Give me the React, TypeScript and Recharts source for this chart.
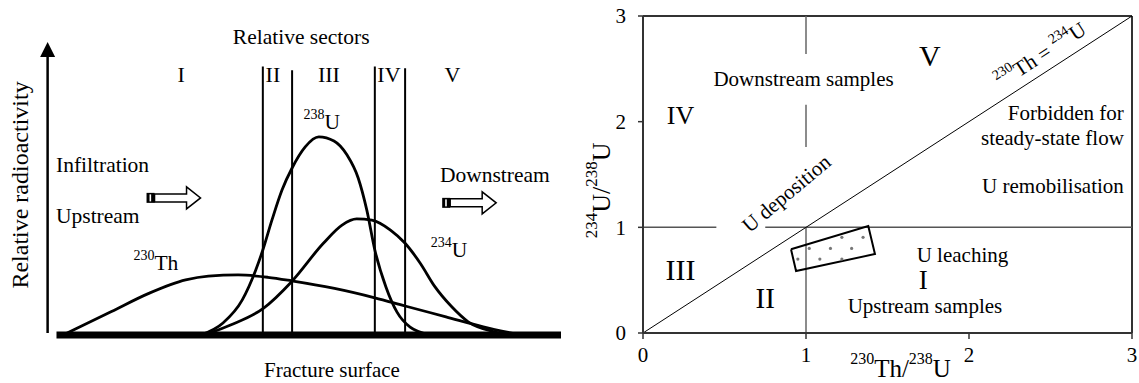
import React from 'react';
import {
  ComposedChart,
  Line,
  Scatter,
  XAxis,
  YAxis,
  ReferenceLine,
  ReferenceDot
} from 'recharts';

const FONT = '"Liberation Serif", "Times New Roman", serif';

// Left panel: activity profiles along the fracture (x = position, y = relative activity)
const u238Profile = [
  { x: 28.6, y: 0 }, { x: 33.0, y: 4.1 }, { x: 36.8, y: 11.9 }, { x: 39.5, y: 22.2 },
  { x: 40.9, y: 29.0 }, { x: 42.7, y: 39.2 }, { x: 44.7, y: 49.5 }, { x: 46.7, y: 57.0 },
  { x: 49.3, y: 64.2 }, { x: 52.0, y: 67.6 }, { x: 55.0, y: 66.2 }, { x: 57.6, y: 61.4 },
  { x: 59.8, y: 53.6 }, { x: 61.5, y: 42.7 }, { x: 63.1, y: 29.0 }, { x: 65.3, y: 16.4 },
  { x: 67.5, y: 7.8 }, { x: 70.1, y: 2.7 }, { x: 74.2, y: 0 }
];
const u234Profile = [
  { x: 29.3, y: 0 }, { x: 34.5, y: 3.4 }, { x: 41.0, y: 9.1 }, { x: 46.6, y: 18.2 },
  { x: 52.9, y: 31.3 }, { x: 56.6, y: 37.5 }, { x: 59.5, y: 39.6 }, { x: 62.5, y: 39.2 },
  { x: 66.2, y: 35.8 }, { x: 69.1, y: 31.3 }, { x: 72.1, y: 24.5 }, { x: 75.0, y: 16.5 },
  { x: 78.3, y: 9.7 }, { x: 81.6, y: 4.5 }, { x: 86.8, y: 1.1 }, { x: 92.0, y: 0 }
];
const th230Profile = [
  { x: 1.3, y: 0 }, { x: 10.9, y: 8.0 }, { x: 18.3, y: 14.2 }, { x: 25.6, y: 18.8 },
  { x: 30.1, y: 20.1 }, { x: 36.0, y: 20.5 }, { x: 41.9, y: 19.7 }, { x: 46.6, y: 18.5 },
  { x: 55.1, y: 15.9 }, { x: 63.1, y: 12.7 }, { x: 69.1, y: 9.9 }, { x: 77.2, y: 6.2 },
  { x: 84.6, y: 2.8 }, { x: 92.0, y: 0 }
];
const sectorBounds = [40.9, 46.7, 63.1, 69.1];
const sectorTops = [91.6, 90.4, 91.6, 91.0];
const sectorNames = ['I', 'II', 'III', 'IV', 'V'];
const sectorLabelX = [24.7, 42.9, 54.0, 65.9, 78.5];

// Right panel: activity-ratio diagram
const ratioTicks = [0, 1, 2, 3];
const sampleBox = [
  { x: 0.908, y: 0.792 }, { x: 1.382, y: 1.012 }, { x: 1.423, y: 0.747 },
  { x: 0.939, y: 0.587 }, { x: 0.908, y: 0.792 }
];
const sampleDots = [
  { x: 1.02, y: 0.8 }, { x: 1.15, y: 0.8 }, { x: 1.28, y: 0.8 },
  { x: 1.22, y: 0.905 }, { x: 1.35, y: 0.905 },
  { x: 0.95, y: 0.7 }, { x: 1.085, y: 0.7 }, { x: 1.22, y: 0.7 }
];
const regionNames = ['V', 'IV', 'III', 'II', 'I'];
const regionX = [1.76, 0.23, 0.23, 0.75, 1.72];
const regionY = [2.63, 2.06, 0.61, 0.33, 0.5];
const regionSize = [30, 26, 30, 29, 27];

type Part = [string, boolean];

const renderParts = (parts: Part[], size: number) => {
  const sup = Math.round(size * 0.65);
  const shift = size * 0.38;
  let wasSup = false;
  return parts.map(([t, isSup], i) => {
    let dy = 0;
    if (isSup && !wasSup) dy = -shift;
    if (!isSup && wasSup) dy = shift;
    wasSup = isSup;
    return (
      <tspan key={i} dy={dy} fontSize={isSup ? sup : size}>{t}</tspan>
    );
  });
};

const note = (parts: Part[], size = 22, anchor = 'middle', rot = 0) => (p: any) => (
  <text
    x={p.cx}
    y={p.cy}
    textAnchor={anchor as any}
    dominantBaseline="central"
    fontFamily={FONT}
    fontSize={size}
    fill="#000"
    transform={rot ? `rotate(${rot} ${p.cx} ${p.cy})` : undefined}
  >
    {renderParts(parts, size)}
  </text>
);

const FlowArrow = (p: any) => {
  const { cx, cy } = p;
  const x0 = cx - 27;
  const x1 = cx + 27;
  const hs = x1 - 14;
  const tail = x0 + 8;
  return (
    <g>
      <polygon
        points={`${tail},${cy - 4} ${hs},${cy - 4} ${hs},${cy - 11} ${x1},${cy} ${hs},${cy + 11} ${hs},${cy + 4} ${tail},${cy + 4}`}
        fill="#fff"
        stroke="#000"
        strokeWidth={1.5}
      />
      <rect x={x0} y={cy - 5} width={8} height={10} fill="#000" />
      <rect x={x0 + 3} y={cy - 3.5} width={1.6} height={7} fill="#fff" />
    </g>
  );
};

const AxisArrow = (p: any) => {
  const { x1, y1, x2, y2 } = p;
  const top = Math.min(y1, y2);
  const bottom = Math.max(y1, y2);
  return (
    <g>
      <line x1={x1} y1={bottom} x2={x1} y2={top + 12} stroke="#000" strokeWidth={2.5} />
      <polygon points={`${x1},${top} ${x1 - 7.5},${top + 15} ${x1 + 7.5},${top + 15}`} fill="#000" />
    </g>
  );
};

const FractureProfile = () => (
  <ComposedChart width={580} height={383} margin={{ top: 12.7, right: 19, bottom: 48, left: 46.4 }}>
    <XAxis type="number" dataKey="x" domain={[-2, 100]} hide allowDataOverflow />
    <YAxis type="number" domain={[0, 110]} hide allowDataOverflow />
    <ReferenceLine segment={[{ x: -1.76, y: 0.7 }, { x: -1.76, y: 100 }]} shape={AxisArrow} ifOverflow="visible" />
    {sectorBounds.map((b, i) => (
      <ReferenceLine key={b} segment={[{ x: b, y: 0 }, { x: b, y: sectorTops[i] }]} stroke="#000" strokeWidth={2} />
    ))}
    <Line data={th230Profile} dataKey="y" type="monotone" stroke="#000" strokeWidth={2.8} dot={false} isAnimationActive={false} />
    <Line data={u238Profile} dataKey="y" type="monotone" stroke="#000" strokeWidth={2.8} dot={false} isAnimationActive={false} />
    <Line data={u234Profile} dataKey="y" type="monotone" stroke="#000" strokeWidth={2.8} dot={false} isAnimationActive={false} />
    <ReferenceLine segment={[{ x: 0, y: 0 }, { x: 100, y: 0 }]} stroke="#000" strokeWidth={7} />
    {sectorNames.map((s, i) => (
      <ReferenceDot key={s} x={sectorLabelX[i]} y={89.1} r={0} shape={note([[s, false]], 22)} ifOverflow="visible" />
    ))}
    <ReferenceDot x={48.5} y={101.7} r={0} shape={note([['Relative sectors', false]], 21.5)} ifOverflow="visible" />
    <ReferenceDot x={-0.1} y={58} r={0} shape={note([['Infiltration', false]], 21.5, 'start')} ifOverflow="visible" />
    <ReferenceDot x={-0.1} y={40.6} r={0} shape={note([['Upstream', false]], 21.5, 'start')} ifOverflow="visible" />
    <ReferenceDot x={76.0} y={54.6} r={0} shape={note([['Downstream', false]], 21.5, 'start')} ifOverflow="visible" />
    <ReferenceDot x={23.2} y={46.8} r={0} shape={FlowArrow} ifOverflow="visible" />
    <ReferenceDot x={81.8} y={45.1} r={0} shape={FlowArrow} ifOverflow="visible" />
    <ReferenceDot x={52.6} y={72.7} r={0} shape={note([['238', true], ['U', false]], 21.5)} ifOverflow="visible" />
    <ReferenceDot x={77.8} y={29.0} r={0} shape={note([['234', true], ['U', false]], 21.5)} ifOverflow="visible" />
    <ReferenceDot x={19.7} y={24.6} r={0} shape={note([['230', true], ['Th', false]], 21.5)} ifOverflow="visible" />
    <ReferenceDot x={-7.2} y={51.2} r={0} shape={note([['Relative radioactivity', false]], 24, 'middle', -90)} ifOverflow="visible" />
    <ReferenceDot x={54.6} y={-11.8} r={0} shape={note([['Fracture surface', false]], 21)} ifOverflow="visible" />
  </ComposedChart>
);

const RatioDiagram = () => (
  <ComposedChart width={559} height={383} margin={{ top: 16, right: 7, bottom: 0, left: 23 }}>
    <XAxis
      type="number"
      dataKey="x"
      domain={[0, 3]}
      ticks={ratioTicks}
      height={50}
      tick={{ fontSize: 21, fill: '#000', fontFamily: FONT }}
      axisLine={{ stroke: '#333', strokeWidth: 2 }}
      tickLine={{ stroke: '#333', strokeWidth: 1.5 }}
      tickSize={6}
      tickMargin={8}
      allowDataOverflow
    />
    <YAxis
      type="number"
      dataKey="y"
      domain={[0, 3]}
      ticks={ratioTicks}
      width={40}
      tick={{ fontSize: 21, fill: '#000', fontFamily: FONT }}
      axisLine={{ stroke: '#333', strokeWidth: 2 }}
      tickLine={{ stroke: '#333', strokeWidth: 1.5 }}
      tickSize={5}
      tickMargin={12}
      allowDataOverflow
    />
    <ReferenceLine y={3} stroke="#333" strokeWidth={2} />
    <ReferenceLine x={3} stroke="#333" strokeWidth={2} />
    <ReferenceLine segment={[{ x: 0, y: 1 }, { x: 0.45, y: 1 }]} stroke="#555" strokeWidth={1.5} />
    <ReferenceLine segment={[{ x: 0.75, y: 1 }, { x: 3, y: 1 }]} stroke="#555" strokeWidth={1.5} />
    <ReferenceLine segment={[{ x: 1, y: 0 }, { x: 1, y: 1 }]} stroke="#666" strokeWidth={1.5} />
    <ReferenceLine segment={[{ x: 1, y: 1.76 }, { x: 1, y: 2.16 }]} stroke="#666" strokeWidth={1.5} />
    <ReferenceLine segment={[{ x: 1, y: 2.64 }, { x: 1, y: 3 }]} stroke="#666" strokeWidth={1.5} />
    <ReferenceLine segment={[{ x: 0, y: 0 }, { x: 3, y: 3 }]} stroke="#000" strokeWidth={1} />
    <Line data={sampleBox} dataKey="y" type="linear" stroke="#000" strokeWidth={2} dot={false} isAnimationActive={false} />
    <Scatter
      data={sampleDots}
      dataKey="y"
      isAnimationActive={false}
      shape={(p: any) => <circle cx={p.cx} cy={p.cy} r={1.6} fill="#777" />}
    />
    {regionNames.map((s, i) => (
      <ReferenceDot key={s} x={regionX[i]} y={regionY[i]} r={0} shape={note([[s, false]], regionSize[i])} ifOverflow="visible" />
    ))}
    <ReferenceDot x={0.985} y={2.4} r={0} shape={note([['Downstream samples', false]], 21)} />
    <ReferenceDot x={2.95} y={2.08} r={0} shape={note([['Forbidden for', false]], 21, 'end')} />
    <ReferenceDot x={2.95} y={1.85} r={0} shape={note([['steady-state flow', false]], 21, 'end')} />
    <ReferenceDot x={2.95} y={1.39} r={0} shape={note([['U remobilisation', false]], 21, 'end')} />
    <ReferenceDot x={1.96} y={0.74} r={0} shape={note([['U leaching', false]], 21)} />
    <ReferenceDot x={1.73} y={0.26} r={0} shape={note([['Upstream samples', false]], 21)} />
    <ReferenceDot x={0.88} y={1.32} r={0} shape={note([['U deposition', false]], 21, 'middle', -40)} />
    <ReferenceDot
      x={2.44}
      y={2.63}
      r={0}
      shape={note([['230', true], ['Th = ', false], ['234', true], ['U', false]], 21, 'middle', -33)}
    />
    <ReferenceDot
      x={1.58}
      y={-0.33}
      r={0}
      shape={note([['230', true], ['Th/', false], ['238', true], ['U', false]], 25)}
      ifOverflow="visible"
    />
    <ReferenceDot
      x={-0.26}
      y={1.35}
      r={0}
      shape={note([['234', true], ['U/', false], ['238', true], ['U', false]], 26, 'middle', -90)}
      ifOverflow="visible"
    />
  </ComposedChart>
);

export default function App() {
  return (
    <div style={{ position: 'absolute', left: 0, top: 0, width: 1139, height: 383, background: '#fff' }}>
      <div style={{ position: 'absolute', left: 0, top: 0 }}>
        <FractureProfile />
      </div>
      <div style={{ position: 'absolute', left: 580, top: 0 }}>
        <RatioDiagram />
      </div>
    </div>
  );
}
